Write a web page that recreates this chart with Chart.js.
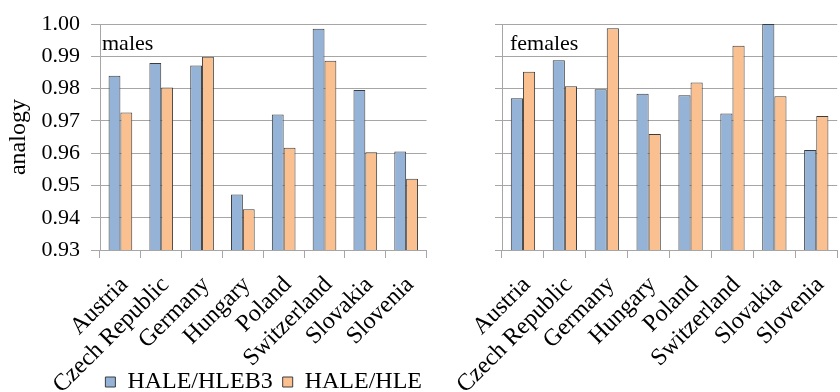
<!DOCTYPE html>
<html>
<head>
<meta charset="utf-8">
<script src="https://cdn.jsdelivr.net/npm/chart.js@4.4.1/dist/chart.umd.min.js"></script>
<style>
  html, body { margin: 0; padding: 0; background: #fff; overflow: hidden; width: 840px; height: 392px; }
  #left { position: absolute; left: 0; top: 0; }
  #right { position: absolute; left: 440px; top: 0; }
</style>
</head>
<body>
<canvas id="left" width="440" height="392"></canvas>
<canvas id="right" width="410" height="392"></canvas>
<script>
// ---- data ----
const categories = ['Austria', 'Czech Republic', 'Germany', 'Hungary', 'Poland', 'Switzerland', 'Slovakia', 'Slovenia'];
const seriesNames = ['HALE/HLEB3', 'HALE/HLE'];
const malesHLEB3 = [0.9840, 0.9880, 0.9872, 0.9472, 0.9720, 0.9986, 0.9796, 0.9605];
const malesHLE = [0.9726, 0.9804, 0.9899, 0.9426, 0.9617, 0.9887, 0.9603, 0.9521];
const femalesHLEB3 = [0.9770, 0.9888, 0.9798, 0.9784, 0.9779, 0.9723, 1.0000, 0.9610];
const femalesHLE = [0.9852, 0.9807, 0.9987, 0.9659, 0.9819, 0.9933, 0.9776, 0.9715];
const yMin = 0.93;
const yMax = 1.00;
const yStep = 0.01;
const panelLabels = ['males', 'females'];
const yTitle = 'analogy';

// ---- style ----
Chart.defaults.font.family = "'Liberation Serif', 'Times New Roman', serif";
Chart.defaults.font.size = 22;
Chart.defaults.color = '#000';
const gridColor = '#a6a6a6';
const blue = '#95b3d7';
const orange = '#fac090';
const edge = '#3c3c3c';

const panelLabelPlugin = {
  id: 'panelLabel',
  afterDatasetsDraw(chart, args, opts) {
    const ctx = chart.ctx;
    ctx.save();
    ctx.font = "22px 'Liberation Serif', serif";
    ctx.fillStyle = '#000';
    ctx.textBaseline = 'alphabetic';
    ctx.textAlign = 'left';
    ctx.fillText(opts.text, chart.chartArea.left + opts.dx, opts.y);
    ctx.restore();
  }
};

// let the rotated category labels run down to the canvas bottom (over the legend row)
const labelClipPlugin = {
  id: 'labelClip',
  afterLayout(chart) {
    chart.scales.x.bottom = chart.height;
  }
};

function makeDatasets(a, b) {
  return [
    { label: seriesNames[0], data: a, backgroundColor: blue, borderColor: edge, borderWidth: 1,
      categoryPercentage: 0.58, barPercentage: 1.0 },
    { label: seriesNames[1], data: b, backgroundColor: orange, borderColor: edge, borderWidth: 1,
      categoryPercentage: 0.58, barPercentage: 1.0 }
  ];
}

function xScale(height) {
  return {
    offset: true,
    grid: { offset: true, drawOnChartArea: false, drawTicks: true, tickLength: 8, color: gridColor },
    border: { color: gridColor },
    ticks: { autoSkip: false, maxRotation: 45, minRotation: 45, padding: 13, labelOffset: 4, font: { size: 24 } },
    afterFit(s) { s.height = height; }
  };
}

function yScale(showLabels, width, tickLen) {
  const y = {
    min: yMin, max: yMax,
    grid: { color: gridColor, tickLength: tickLen, drawTicks: true },
    border: { color: gridColor },
    ticks: { stepSize: yStep, display: showLabels, padding: 11, font: { size: 22 },
      callback: v => Number(v).toFixed(2) },
    afterFit(s) { s.width = width; }
  };
  if (showLabels) {
    y.title = { display: true, text: yTitle, font: { size: 24 }, padding: { top: 4, bottom: 0 } };
  }
  return y;
}

new Chart(document.getElementById('left'), {
  type: 'bar',
  data: { labels: categories, datasets: makeDatasets(malesHLEB3, malesHLE) },
  options: {
    responsive: false, animation: false, devicePixelRatio: 1,
    layout: { padding: { top: 24, right: 8, bottom: -12, left: 0 } },
    plugins: {
      legend: {
        position: 'bottom', align: 'end', fullSize: true,
        labels: { boxWidth: 10, boxHeight: 10, padding: 10, font: { size: 24 }, color: '#000' }
      },
      tooltip: { enabled: false },
      panelLabel: { text: panelLabels[0], dx: 2, y: 50 }
    },
    scales: { x: xScale(110), y: yScale(true, 100, 9) }
  },
  plugins: [panelLabelPlugin, labelClipPlugin]
});

new Chart(document.getElementById('right'), {
  type: 'bar',
  data: { labels: categories, datasets: makeDatasets(femalesHLEB3, femalesHLE) },
  options: {
    responsive: false, animation: false, devicePixelRatio: 1,
    layout: { padding: { top: 24, right: 6, bottom: 0, left: 0 } },
    plugins: {
      legend: { display: false },
      tooltip: { enabled: false },
      panelLabel: { text: panelLabels[1], dx: 8, y: 50 }
    },
    scales: { x: xScale(142), y: yScale(false, 62, 7) }
  },
  plugins: [panelLabelPlugin, labelClipPlugin]
});
</script>
</body>
</html>
